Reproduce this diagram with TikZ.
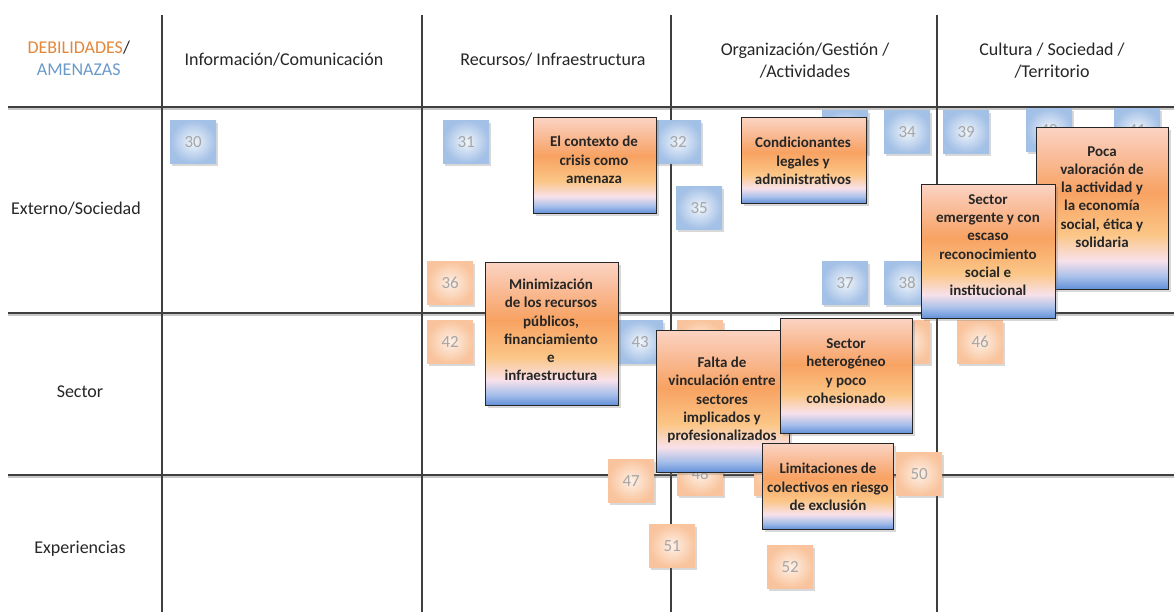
\documentclass[tikz,border=0pt]{standalone}
\usepackage{fontspec}
\setmainfont{Carlito}
\usetikzlibrary{shadows}
\definecolor{lineC}{HTML}{3F3F3F}
\definecolor{sqBin}{HTML}{F0F5FB}
\definecolor{sqBout}{HTML}{A3C0E6}
\definecolor{sqOin}{HTML}{FEF0E6}
\definecolor{sqOout}{HTML}{F9C49D}
\definecolor{numC}{HTML}{A6A6A6}
\definecolor{debC}{HTML}{E3873A}
\definecolor{ameC}{HTML}{6A9AC9}
\definecolor{bxTop}{HTML}{FBD3C2}
\definecolor{bxMid}{HTML}{F9BC98}
\definecolor{bxOr}{HTML}{F8A262}
\definecolor{bxYe}{HTML}{FBC686}
\definecolor{bxPk}{HTML}{F8E1EA}
\definecolor{bxBlb}{HTML}{A7BFEA}
\definecolor{bxBl}{HTML}{5F8ED8}
\pgfdeclareverticalshading{boxshade}{100bp}{color(0bp)=(bxBl); color(25bp)=(bxBl); color(29bp)=(bxBlb); color(34bp)=(bxPk); color(42bp)=(bxYe); color(55bp)=(bxOr); color(66bp)=(bxMid); color(75bp)=(bxTop); color(100bp)=(bxTop)}
\tikzset{
  gridline/.style={line width=1.6pt, draw=lineC},
  hshadow/.style={line width=1.6pt, draw=black!22},
  sqbase/.style={anchor=north west, minimum width=46pt, minimum height=43pt, inner sep=0pt,
    text=numC, font=\fontsize{17}{17}\selectfont,
    drop shadow={shadow xshift=2pt, shadow yshift=-3pt, opacity=0.25, fill=black!60}},
  sqblue/.style={sqbase, inner color=sqBin, outer color=sqBout},
  sqorange/.style={sqbase, inner color=sqOin, outer color=sqOout},
  tbox/.style={anchor=north west, inner sep=0pt, draw=black!85, line width=1.4pt,
    shading=boxshade, drop shadow={shadow xshift=2pt, shadow yshift=-2pt, opacity=0.3}},
  btext/.style={align=center, text=black!85, font=\fontsize{15}{18.3}\selectfont\bfseries},
  head/.style={align=center, text=black!85, font=\fontsize{18}{22}\selectfont},
}
\begin{document}
\begin{tikzpicture}[x=1pt, y=-1pt]
\fill[white] (0,0) rectangle (1174,612);
\useasboundingbox (0,0) rectangle (1174,612);

% grid
\foreach \yy in {107,313,475} {
  \draw[hshadow] (8,\yy+2.2) -- (1174,\yy+2.2);
  \draw[gridline] (8,\yy) -- (1174,\yy);
}
\foreach \xx in {162,422,671,937} {
  \draw[gridline] (\xx,15) -- (\xx,612);
}

% headers
\node[head, anchor=west] (h0) at (24,58) {\textcolor{debC}{DEBILIDADES}/\\\textcolor{ameC}{AMENAZAS}};
\node[head] (h1) at (284,60) {Información/Comunicación};
\node[head] (h2) at (553,60) {Recursos/ Infraestructura};
\node[head] (h3) at (805,61) {Organización/Gestión /\\/Actividades};
\node[head] (h4) at (1052,61) {Cultura / Sociedad /\\/Territorio};

% row labels
\node[head] (r1) at (76,209) {Externo/Sociedad};
\node[head] (r2) at (80,392) {Sector};
\node[head] (r3) at (80,549) {Experiencias};

% squares: amenazas (blue)
\node[sqblue] (s30) at (170,120) {30};
\node[sqblue] (s31) at (443,120) {31};
\node[sqblue] (s32) at (655,120) {32};
\node[sqblue] (s33) at (822,110) {};
\node[sqblue] (s34) at (884,110) {34};
\node[sqblue] (s35) at (676,186) {35};
\node[sqblue] (s39) at (943,110) {39};
\node[sqblue] (s40) at (1026,108) {40};
\node[sqblue] (s41) at (1114,108) {41};
\node[sqblue] (s37) at (822,261) {37};
\node[sqblue] (s38) at (884,261) {38};
\node[sqblue] (s43) at (617,320) {43};
% squares: debilidades (orange)
\node[sqorange] (s36) at (427,261) {36};
\node[sqorange] (s42) at (427,320) {42};
\node[sqorange] (s44) at (677,320) {};
\node[sqorange] (s45) at (884,320) {};
\node[sqorange] (s46) at (957,320) {46};
\node[sqorange] (s47) at (608,459) {47};
\node[sqorange] (s48) at (677,452) {48};
\node[sqorange] (s49) at (754,452) {};
\node[sqorange] (s50) at (896,452) {50};
\node[sqorange] (s51) at (649,524) {51};
\node[sqorange] (s52) at (767,545) {52};

% text boxes
\node[tbox, minimum width=123pt, minimum height=96pt] (b1) at (533,117) {};
\node[btext] (t1) at (594,160) {El contexto de\\crisis como\\amenaza};

\node[tbox, minimum width=125pt, minimum height=86pt] (b2) at (741,117) {};
\node[btext] (t2) at (803,161) {Condicionantes\\legales y\\administrativos};

\node[tbox, minimum width=132pt, minimum height=162pt] (b3) at (1036,127) {};
\node[btext] (t3) at (1102,197) {Poca\\valoración de\\la actividad y\\la economía\\social, ética y\\solidaria};

\node[tbox, minimum width=134pt, minimum height=134pt] (b4) at (921,184) {};
\node[btext] (t4) at (988,245) {Sector\\emergente y con\\escaso\\reconocimiento\\social e\\institucional};

\node[tbox, minimum width=133pt, minimum height=143pt] (b5) at (485,262) {};
\node[btext] (t5) at (551,330) {Minimización\\de los recursos\\públicos,\\financiamiento\\e\\infraestructura};

\node[tbox, minimum width=133pt, minimum height=142pt] (b6) at (656,330) {};
\node[btext] (t6) at (722,400) {Falta de\\vinculación entre\\sectores\\implicados y\\profesionalizados};

\node[tbox, minimum width=132pt, minimum height=115pt] (b7) at (780,318) {};
\node[btext] (t7) at (846,371) {Sector\\heterogéneo\\y poco\\cohesionado};

\node[tbox, minimum width=131pt, minimum height=86pt] (b8) at (762,443) {};
\node[btext] (t8) at (828,487) {Limitaciones de\\colectivos en riesgo\\de exclusión};
\end{tikzpicture}
\end{document}
